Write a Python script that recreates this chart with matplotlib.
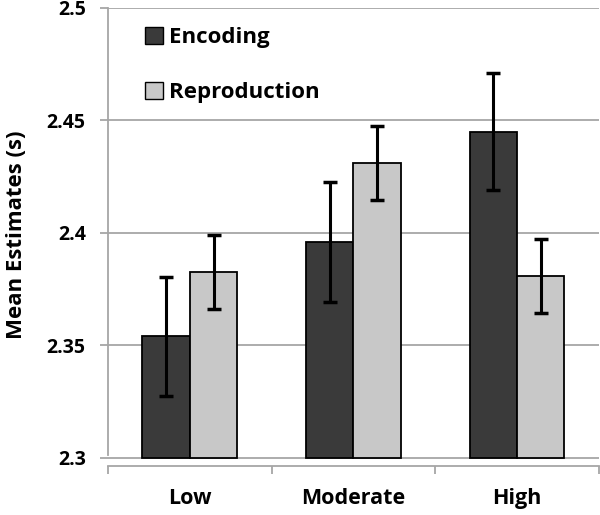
import numpy as np
import matplotlib.pyplot as plt
from matplotlib.patches import Patch

plt.rcParams['font.family'] = ['Open Sans', 'DejaVu Sans']
plt.rcParams['font.weight'] = 'bold'

# data
levels = ["Low", "Moderate", "High"]
encoding = [2.354, 2.396, 2.445]
encoding_err = [0.0265, 0.0265, 0.026]
reproduction = [2.3825, 2.431, 2.381]
reproduction_err = [0.0165, 0.0165, 0.0165]

fig = plt.figure(figsize=(6, 5.15), dpi=100)
ax = fig.add_axes([0.18, 0.0951, 0.818, 0.8894])

x = np.arange(len(levels))
w = 0.29
grid_c = "#a6a6a6"

ax.bar(x - w/2, np.array(encoding) - 2.3, w, bottom=2.3, color="#3a3a3a",
       edgecolor="black", linewidth=1.3, zorder=3)
ax.bar(x + w/2, np.array(reproduction) - 2.3, w, bottom=2.3, color="#c8c8c8",
       edgecolor="black", linewidth=1.3, zorder=3)
ax.errorbar(x - w/2, encoding, yerr=encoding_err, fmt="none", ecolor="black",
            elinewidth=2.2, capsize=5, capthick=2.5, zorder=4)
ax.errorbar(x + w/2, reproduction, yerr=reproduction_err, fmt="none", ecolor="black",
            elinewidth=2.2, capsize=5, capthick=2.5, zorder=4)

ax.set_xlim(-0.5, 2.5)
ax.set_ylim(2.2964, 2.5)
ax.set_yticks([2.3, 2.35, 2.4, 2.45, 2.5])
ax.set_yticklabels(["2.3", "2.35", "2.4", "2.45", "2.5"], fontsize=14, fontweight="bold")
ax.yaxis.grid(True, color=grid_c, linewidth=1.3, zorder=0)
ax.tick_params(axis="y", length=6, color=grid_c, width=1.3, pad=10)

ax.set_xticks([-0.5, 0.5, 1.5, 2.5])
ax.set_xticklabels([])
ax.set_xticks(x, minor=True)
ax.set_xticklabels(levels, minor=True, fontsize=15.5, fontweight="bold")
ax.tick_params(axis="x", which="major", length=6, color=grid_c, width=1.3)
ax.tick_params(axis="x", which="minor", length=0, pad=16)

for s in ["top", "right"]:
    ax.spines[s].set_visible(False)
ax.spines["left"].set_color(grid_c)
ax.spines["left"].set_bounds(2.3013, 2.5)
ax.spines["bottom"].set_color(grid_c)
ax.spines["left"].set_linewidth(1.3)
ax.spines["bottom"].set_linewidth(1.3)

ax.set_ylabel("Mean Estimates (s)", fontsize=16, fontweight="bold")
ax.yaxis.set_label_coords(-0.165, 0.504)

handles = [Patch(facecolor="#3a3a3a", edgecolor="black", label="Encoding"),
           Patch(facecolor="#c8c8c8", edgecolor="black", label="Reproduction")]
ax.legend(handles=handles, loc="upper left", bbox_to_anchor=(0.075, 0.958),
          borderaxespad=0, borderpad=0, frameon=False,
          handlelength=0.8, handleheight=0.8, handletextpad=0.3,
          labelspacing=1.5, prop={"weight": "bold", "size": 16})

fig.savefig("out.png", dpi=100)
